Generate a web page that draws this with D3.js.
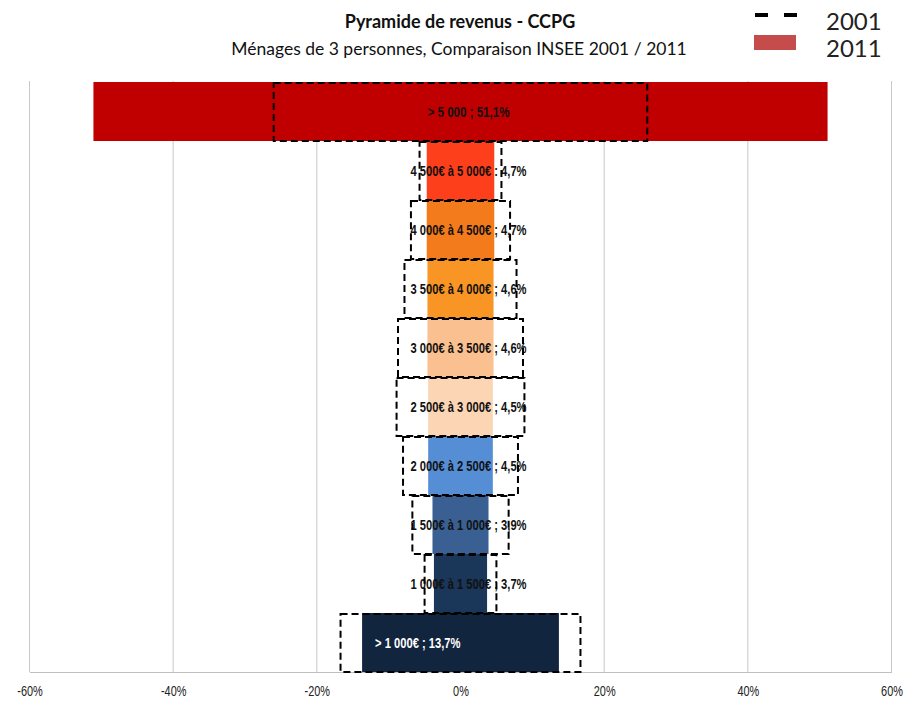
<!DOCTYPE html>
<html>
<head>
<meta charset="utf-8">
<script src="https://cdn.jsdelivr.net/npm/d3@7"></script>
<style>
  body { margin: 0; background: #fff; }
  svg { display: block; }
</style>
</head>
<body>
<div id="pyramid"></div>
<script>
// data, top to bottom
var categories = ["> 5 000", "4 500€ à 5 000€", "4 000€ à 4 500€", "3 500€ à 4 000€", "3 000€ à 3 500€",
                  "2 500€ à 3 000€", "2 000€ à 2 500€", "1 500€ à 1 000€", "1 000€ à 1 500€", "> 1 000€"];
var values2011 = [51.1, 4.7, 4.7, 4.6, 4.6, 4.5, 4.5, 3.9, 3.7, 13.7];
var values2001 = [26.0, 5.7, 6.9, 7.8, 8.7, 8.9, 8.0, 6.7, 5.0, 16.7];
var labels = ["> 5 000 ;  51,1%", "4 500€ à 5 000€ : 4,7%", "4 000€ à 4 500€ ; 4,7%", "3 500€ à 4 000€ ; 4,6%",
              "3 000€ à 3 500€ ; 4,6%", "2 500€ à 3 000€ ; 4,5%", "2 000€ à 2 500€ ; 4,5%",
              "1 500€ à 1 000€ ; 3,9%", "1 000€ à 1 500€ ; 3,7%", "> 1 000€ ; 13,7%"];
var colors = ["#c00000", "#fd3f1c", "#f47b1b", "#f99524", "#fac090", "#fcd5b5", "#558ed5", "#3a6093", "#1a3659", "#12253f"];
var ticks = [-60, -40, -20, 0, 20, 40, 60];

var svgWidth = 905;
var svgHeight = 701;
var margin = { top: 82, right: 13.5, bottom: 29, left: 29.5 };

var svg = d3.select("#pyramid")
    .append("svg")
    .attr("width", svgWidth)
    .attr("height", svgHeight);

var x = d3.scaleLinear()
    .domain([-60, 60])
    .range([margin.left, svgWidth - margin.right]);

var y = d3.scaleBand()
    .domain(categories)
    .range([margin.top, svgHeight - margin.bottom])
    .padding(0);

var sans = "'Liberation Sans', Arial, sans-serif";
var titleFont = "Lato, 'Open Sans', sans-serif";

// gridlines
svg.append("g")
    .selectAll("line")
    .data(ticks)
    .enter()
    .append("line")
    .attr("x1", d => x(d))
    .attr("x2", d => x(d))
    .attr("y1", margin.top - 1)
    .attr("y2", svgHeight - margin.bottom)
    .attr("stroke", "#c8c8c8")
    .attr("stroke-width", 1);

// x axis (text squeezed horizontally to look like a narrow font)
var xAxis = svg.append("g")
    .attr("transform", "translate(0," + (svgHeight - margin.bottom) + ")")
    .call(d3.axisBottom(x).tickValues(ticks).tickSize(0).tickPadding(14).tickFormat(d => d + "%"));
xAxis.select(".domain").attr("stroke", "#bfbfbf");
xAxis.selectAll(".tick text")
    .style("font-family", sans)
    .style("font-size", "14px")
    .attr("fill", "#222")
    .attr("transform", "scale(0.78,1)");

// 2011 bars
svg.append("g")
    .selectAll("rect")
    .data(categories)
    .enter()
    .append("rect")
    .attr("x", (d, i) => x(-values2011[i]))
    .attr("width", (d, i) => x(values2011[i]) - x(-values2011[i]))
    .attr("y", d => y(d))
    .attr("height", y.bandwidth())
    .attr("fill", (d, i) => colors[i]);

// labels
var last = categories.length - 1;
svg.append("g")
    .selectAll("text")
    .data(categories)
    .enter()
    .append("text")
    .attr("transform", (d, i) => {
        var lx = i === last ? x(-values2011[i]) + 13 : x(0) + 8;
        return "translate(" + lx + "," + (y(d) + y.bandwidth() / 2) + ") scale(0.77,1)";
    })
    .attr("dy", "0.35em")
    .attr("text-anchor", (d, i) => i === last ? "start" : "middle")
    .style("font-family", sans)
    .style("font-size", (d, i) => i === 0 ? "15px" : "14.5px")
    .style("font-weight", "bold")
    .attr("fill", (d, i) => i === last ? "#fff" : "#111")
    .text((d, i) => labels[i]);

// 2001 dashed outlines
svg.append("g")
    .selectAll("rect")
    .data(categories)
    .enter()
    .append("rect")
    .attr("x", (d, i) => x(-values2001[i]))
    .attr("width", (d, i) => x(values2001[i]) - x(-values2001[i]))
    .attr("y", d => y(d) + 1)
    .attr("height", y.bandwidth() - 1)
    .attr("fill", "none")
    .attr("stroke", "#000")
    .attr("stroke-width", 2)
    .attr("stroke-dasharray", "7,4");

// title
svg.append("text")
    .attr("x", 460)
    .attr("y", 28)
    .attr("text-anchor", "middle")
    .style("font-family", titleFont)
    .style("font-size", "18px")
    .style("font-weight", "bold")
    .attr("fill", "#111")
    .text("Pyramide de revenus - CCPG");

svg.append("text")
    .attr("x", 459)
    .attr("y", 55)
    .attr("text-anchor", "middle")
    .style("font-family", titleFont)
    .style("font-size", "17.5px")
    .attr("fill", "#111")
    .text("Ménages de 3 personnes, Comparaison  INSEE 2001 / 2011");

// legend
var legend = svg.append("g");
legend.append("line")
    .attr("x1", 755).attr("x2", 797)
    .attr("y1", 15).attr("y2", 15)
    .attr("stroke", "#000")
    .attr("stroke-width", 4)
    .attr("stroke-dasharray", "13,16");
legend.append("rect")
    .attr("x", 754).attr("y", 35)
    .attr("width", 42).attr("height", 15)
    .attr("fill", "#c64c4c");
legend.append("text")
    .attr("x", 826).attr("y", 30)
    .style("font-family", titleFont)
    .style("font-size", "24px")
    .attr("fill", "#222")
    .text("2001");
legend.append("text")
    .attr("x", 826).attr("y", 57)
    .style("font-family", titleFont)
    .style("font-size", "24px")
    .attr("fill", "#222")
    .text("2011");
</script>
</body>
</html>
